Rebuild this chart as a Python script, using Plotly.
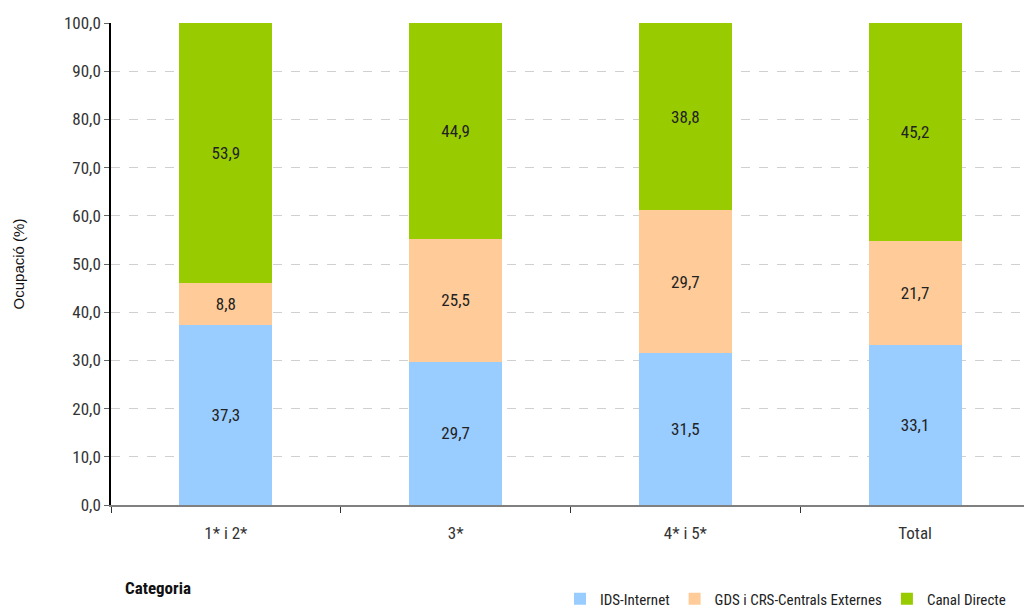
import plotly.graph_objects as go

categories = ["1* i 2*", "3*", "4* i 5*", "Total"]
ids_internet = [37.3, 29.7, 31.5, 33.1]
gds_crs = [8.8, 25.5, 29.7, 21.7]
canal_directe = [53.9, 44.9, 38.8, 45.2]
series_names = ["IDS-Internet", "GDS i CRS-Centrals Externes", "Canal Directe"]
colors = ["#99CCFF", "#FFCC99", "#99CC00"]
y_ticks = [0, 10, 20, 30, 40, 50, 60, 70, 80, 90, 100]

NARROW = "Liberation Sans Narrow, Arial Narrow, Roboto Condensed, sans-serif"

fig = go.Figure()
for name, vals, col in zip(series_names, [ids_internet, gds_crs, canal_directe], colors):
    fig.add_trace(go.Bar(
        x=categories, y=vals, name=name,
        marker=dict(color=col, line=dict(width=0)),
        texttemplate="%{y:.1f}", textposition="inside", insidetextanchor="middle",
        textfont=dict(family=NARROW, size=17, color="#222222"),
        hoverinfo="skip",
    ))

fig.update_layout(
    barmode="stack",
    bargap=0.595,
    separators=",.",
    width=1024, height=610,
    margin=dict(l=111, r=0, t=23, b=105, autoexpand=False),
    plot_bgcolor="white", paper_bgcolor="white",
    font=dict(family=NARROW, size=16, color="#333333"),
    showlegend=True,
    legend=dict(
        orientation="h", x=(560 - 111) / 913, xanchor="left", y=(505 - 599) / 482, yanchor="middle",
        font=dict(family=NARROW, size=15, color="#222222"),
        traceorder="normal", itemwidth=30, tracegroupgap=0,
    ),
    xaxis=dict(
        range=[-0.5, 3.474], automargin=False,
        showline=True, linecolor="#808080", linewidth=1.5,
        ticks="outside", tickson="boundaries", ticklen=6, tickcolor="#333333",
        ticklabelstandoff=12,
        showgrid=False,
        tickfont=dict(family=NARROW, size=17, color="#333333"),
    ),
    yaxis=dict(
        range=[0, 100], automargin=False,
        tickvals=y_ticks, tickformat=".1f",
        showline=True, linecolor="#000000", linewidth=1.5,
        ticks="outside", ticklen=5, tickcolor="#666666",
        gridcolor="#D0D0D0", griddash="dash", gridwidth=1,
        zeroline=False,
        tickfont=dict(family=NARROW, size=17, color="#333333"),
        title=dict(text="Ocupació (%)", font=dict(family="Liberation Sans, Arial, sans-serif", size=15, color="#111111"), standoff=36),
    ),
)

fig.add_annotation(
    text="<b>Categoria</b>", xref="paper", yref="paper",
    x=(123 - 111) / 913, xanchor="left", y=(505 - 588) / 482, yanchor="middle",
    showarrow=False, font=dict(family=NARROW, size=17, color="#111111"),
)

fig.write_html(
    "out.html",
    config={"displayModeBar": False},
    post_script="document.body.style.margin='0';document.body.style.padding='0';document.documentElement.style.margin='0';",
)
